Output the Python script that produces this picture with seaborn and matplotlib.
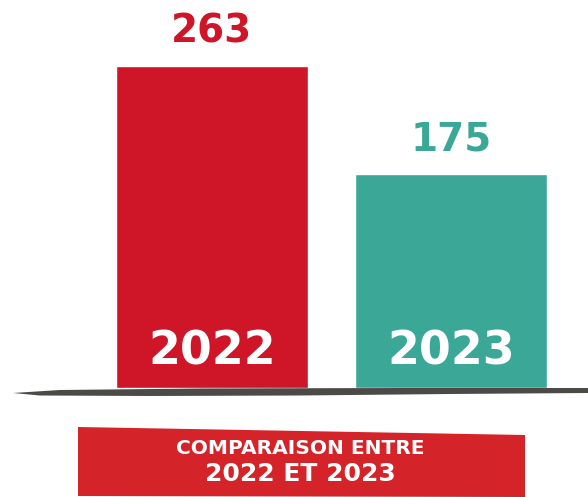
import matplotlib
matplotlib.use("Agg")
import matplotlib.pyplot as plt
from matplotlib.patches import Polygon
import seaborn as sns
import pandas as pd

# Data
years = ["2022", "2023"]
counts = [263, 175]
bar_colors = ["#CE1628", "#3BA797"]
banner_lines = ["COMPARAISON ENTRE", "2022 ET 2023"]

sns.set_theme(style="white")
plt.rcParams["font.family"] = ["DejaVu Sans"]

W, H = 588, 497
fig = plt.figure(figsize=(W / 100, H / 100), dpi=100)
fig.patch.set_facecolor("white")

# Plot area: baseline at y=388 px from the top, bars 0.8 wide, 239 px apart
base_px = 388
ax = fig.add_axes([0, (H - base_px) / H, 1, base_px / H])
df = pd.DataFrame({"year": years, "count": counts})
sns.barplot(data=df, x="year", y="count", hue="year", palette=bar_colors,
            width=0.8, saturation=1, legend=False, ax=ax)
ax.set_xlim(-212 / 239, (W - 212) / 239)
ax.set_ylim(0, base_px / (322 / 263))
ax.axis("off")

# Value labels above, year labels inside at the foot of each bar
for i, (yr, v, c) in enumerate(zip(years, counts, bar_colors)):
    ax.annotate(str(v), xy=(i, v), xytext=(0, 11), textcoords="offset points",
                ha="center", va="bottom", fontsize=28, fontweight="bold",
                color=c)
    ax.annotate(yr, xy=(i, 0), xytext=(0, 26), textcoords="offset points",
                ha="center", va="center", fontsize=33, fontweight="bold",
                color="white")

# Brush-like ground line under the bars (figure pixel coordinates)
def px(x, y):
    return (x / W, 1 - y / H)

ground = [px(13, 393), px(60, 390), px(200, 388.5), px(400, 388), px(588, 388),
          px(588, 393), px(450, 394), px(300, 395.5), px(150, 396), px(40, 395.5)]
fig.patches.append(Polygon(ground, closed=True, transform=fig.transFigure,
                           facecolor="#4B4A46", edgecolor="none", zorder=5))

# Title banner
banner = [px(78, 427), px(525, 435), px(525, 497), px(78, 496)]
fig.patches.append(Polygon(banner, closed=True, transform=fig.transFigure,
                           facecolor="#D42329", edgecolor="none", zorder=1))
fig.text(300 / W, 1 - 448 / H, banner_lines[0], ha="center", va="center",
         fontsize=14.5, fontweight="bold", color="white", zorder=6)
fig.text(300 / W, 1 - 474 / H, banner_lines[1], ha="center", va="center",
         fontsize=18, fontweight="bold", color="white", zorder=6)

fig.savefig("out.png", dpi=100, facecolor="white")
